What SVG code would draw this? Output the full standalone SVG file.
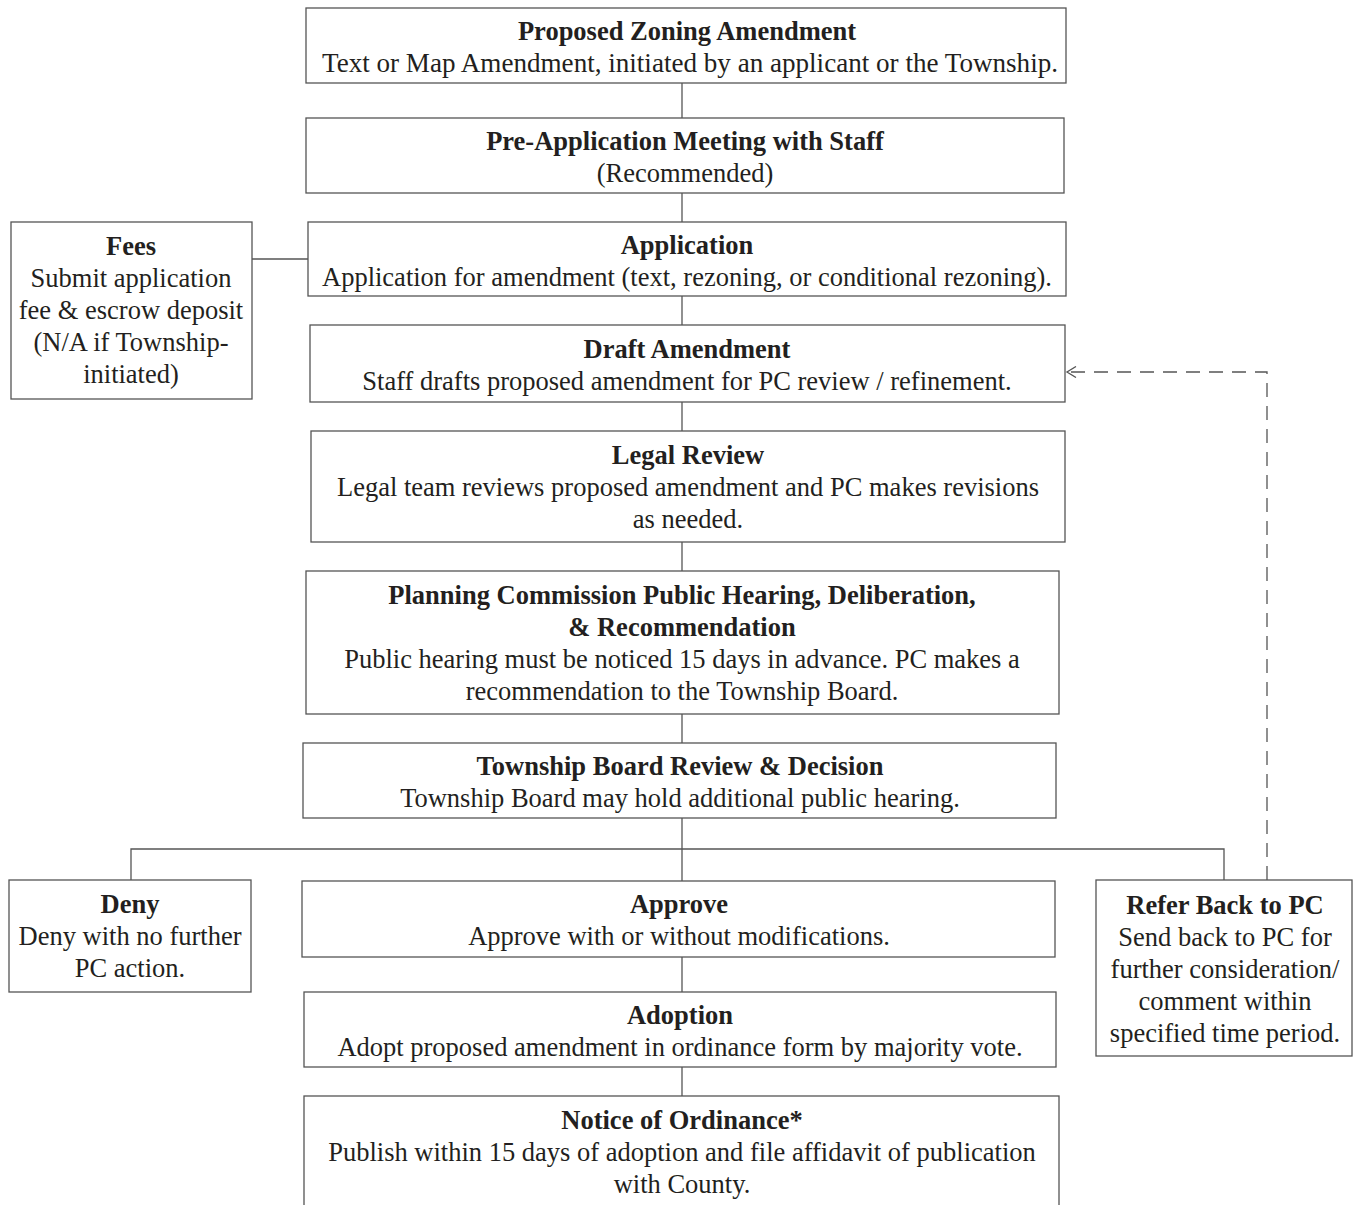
<svg xmlns="http://www.w3.org/2000/svg" width="1353" height="1205" viewBox="0 0 1353 1205">
<style>
.box{fill:#fff;stroke:#555;stroke-width:1.3}
.c{fill:none;stroke:#555;stroke-width:1.3}
.d{fill:none;stroke:#555;stroke-width:1.3;stroke-dasharray:14 9}
text{font-family:"Liberation Serif","Times New Roman",serif;font-size:26.5px;fill:#231f20;text-anchor:middle}
.t{font-weight:bold}
</style>
<defs>
<marker id="open" markerWidth="12" markerHeight="12" refX="10" refY="6" orient="auto" markerUnits="userSpaceOnUse">
<path d="M1,0.5 L10,6 L1,11.5" fill="none" stroke="#555" stroke-width="1.3"/>
</marker>
</defs>
<rect width="1353" height="1205" fill="#fff"/>
<g id="connectors">
<line class="c" x1="682" y1="83" x2="682" y2="118"/>
<line class="c" x1="682" y1="193" x2="682" y2="222"/>
<line class="c" x1="252" y1="259" x2="308" y2="259"/>
<line class="c" x1="682" y1="296" x2="682" y2="325"/>
<line class="c" x1="682" y1="402" x2="682" y2="431"/>
<line class="c" x1="682" y1="542" x2="682" y2="571"/>
<line class="c" x1="682" y1="714" x2="682" y2="743"/>
<line class="c" x1="682" y1="818" x2="682" y2="881"/>
<polyline class="c" points="131,880 131,849 1224,849 1224,880"/>
<line class="c" x1="682" y1="957" x2="682" y2="992"/>
<line class="c" x1="682" y1="1067" x2="682" y2="1096"/>
<polyline class="d" points="1267,880 1267,372 1067,372" marker-end="url(#open)"/>
</g>
<g id="proposed">
<rect class="box" x="306" y="8" width="760" height="75"/>
<text class="t" x="687" y="40">Proposed Zoning Amendment</text>
<text x="690" y="72" textLength="736" lengthAdjust="spacingAndGlyphs">Text or Map Amendment, initiated by an applicant or the Township.</text>
</g>
<g id="preapp">
<rect class="box" x="306" y="118" width="758" height="75"/>
<text class="t" x="685" y="150">Pre-Application Meeting with Staff</text>
<text x="685" y="182">(Recommended)</text>
</g>
<g id="application">
<rect class="box" x="308" y="222" width="758" height="74"/>
<text class="t" x="687" y="254">Application</text>
<text x="687" y="286">Application for amendment (text, rezoning, or conditional rezoning).</text>
</g>
<g id="fees">
<rect class="box" x="11" y="222" width="241" height="177"/>
<text class="t" x="131" y="255">Fees</text>
<text x="131" y="287">Submit application</text>
<text x="131" y="319">fee &amp; escrow deposit</text>
<text x="131" y="351">(N/A if Township-</text>
<text x="131" y="383">initiated)</text>
</g>
<g id="draft">
<rect class="box" x="310" y="325" width="755" height="77"/>
<text class="t" x="687" y="358">Draft Amendment</text>
<text x="687" y="390">Staff drafts proposed amendment for PC review / refinement.</text>
</g>
<g id="legal">
<rect class="box" x="311" y="431" width="754" height="111"/>
<text class="t" x="688" y="464">Legal Review</text>
<text x="688" y="496">Legal team reviews proposed amendment and PC makes revisions</text>
<text x="688" y="528">as needed.</text>
</g>
<g id="pchearing">
<rect class="box" x="306" y="571" width="753" height="143"/>
<text class="t" x="682" y="604">Planning Commission Public Hearing, Deliberation,</text>
<text class="t" x="682" y="636">&amp; Recommendation</text>
<text x="682" y="668">Public hearing must be noticed 15 days in advance. PC makes a</text>
<text x="682" y="700">recommendation to the Township Board.</text>
</g>
<g id="board">
<rect class="box" x="303" y="743" width="753" height="75"/>
<text class="t" x="680" y="775">Township Board Review &amp; Decision</text>
<text x="680" y="807">Township Board may hold additional public hearing.</text>
</g>
<g id="deny">
<rect class="box" x="9" y="880" width="242" height="112"/>
<text class="t" x="130" y="913">Deny</text>
<text x="130" y="945">Deny with no further</text>
<text x="130" y="977">PC action.</text>
</g>
<g id="approve">
<rect class="box" x="302" y="881" width="753" height="76"/>
<text class="t" x="679" y="913">Approve</text>
<text x="679" y="945">Approve with or without modifications.</text>
</g>
<g id="refer">
<rect class="box" x="1096" y="880" width="256" height="176"/>
<text class="t" x="1225" y="914">Refer Back to PC</text>
<text x="1225" y="946">Send back to PC for</text>
<text x="1225" y="978">further consideration/</text>
<text x="1225" y="1010">comment within</text>
<text x="1225" y="1042">specified time period.</text>
</g>
<g id="adoption">
<rect class="box" x="304" y="992" width="752" height="75"/>
<text class="t" x="680" y="1024">Adoption</text>
<text x="680" y="1056">Adopt proposed amendment in ordinance form by majority vote.</text>
</g>
<g id="notice">
<rect class="box" x="304" y="1096" width="755" height="120"/>
<text class="t" x="682" y="1129">Notice of Ordinance*</text>
<text x="682" y="1161">Publish within 15 days of adoption and file affidavit of publication</text>
<text x="682" y="1193">with County.</text>
</g>
</svg>
